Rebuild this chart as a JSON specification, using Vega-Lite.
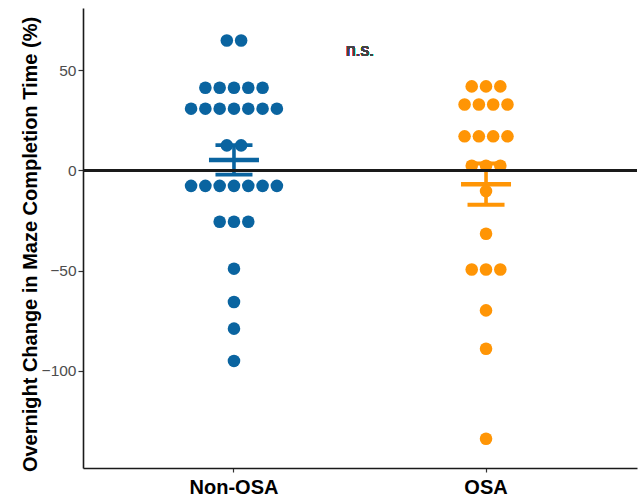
{
  "$schema": "https://vega.github.io/schema/vega-lite/v6.json",
  "autosize": {"type": "none"},
  "width": 554,
  "height": 460,
  "padding": {"left": 83, "top": 8, "right": 3, "bottom": 29},
  "background": "white",
  "config": {
    "view": {"stroke": null},
    "font": "Liberation Sans",
    "axis": {"grid": false, "domainColor": "#1a1a1a", "domainWidth": 1.6, "tickColor": "#333333", "tickWidth": 1.2}
  },
  "data": {
    "values": [
      {"group": "Non-OSA", "change": 64.8}, {"group": "Non-OSA", "change": 64.8},
      {"group": "Non-OSA", "change": 41.2}, {"group": "Non-OSA", "change": 41.2}, {"group": "Non-OSA", "change": 41.2}, {"group": "Non-OSA", "change": 41.2}, {"group": "Non-OSA", "change": 41.2},
      {"group": "Non-OSA", "change": 30.8}, {"group": "Non-OSA", "change": 30.8}, {"group": "Non-OSA", "change": 30.8}, {"group": "Non-OSA", "change": 30.8}, {"group": "Non-OSA", "change": 30.8}, {"group": "Non-OSA", "change": 30.8}, {"group": "Non-OSA", "change": 30.8},
      {"group": "Non-OSA", "change": 12.5}, {"group": "Non-OSA", "change": 12.5},
      {"group": "Non-OSA", "change": -7.7}, {"group": "Non-OSA", "change": -7.7}, {"group": "Non-OSA", "change": -7.7}, {"group": "Non-OSA", "change": -7.7}, {"group": "Non-OSA", "change": -7.7}, {"group": "Non-OSA", "change": -7.7}, {"group": "Non-OSA", "change": -7.7},
      {"group": "Non-OSA", "change": -25.6}, {"group": "Non-OSA", "change": -25.6}, {"group": "Non-OSA", "change": -25.6},
      {"group": "Non-OSA", "change": -49.0},
      {"group": "Non-OSA", "change": -65.6},
      {"group": "Non-OSA", "change": -78.9},
      {"group": "Non-OSA", "change": -95.0},
      {"group": "OSA", "change": 41.9}, {"group": "OSA", "change": 41.9}, {"group": "OSA", "change": 41.9},
      {"group": "OSA", "change": 32.9}, {"group": "OSA", "change": 32.9}, {"group": "OSA", "change": 32.9}, {"group": "OSA", "change": 32.9},
      {"group": "OSA", "change": 17.0}, {"group": "OSA", "change": 17.0}, {"group": "OSA", "change": 17.0}, {"group": "OSA", "change": 17.0},
      {"group": "OSA", "change": 2.3}, {"group": "OSA", "change": 2.3}, {"group": "OSA", "change": 2.3},
      {"group": "OSA", "change": -10.3},
      {"group": "OSA", "change": -31.6},
      {"group": "OSA", "change": -49.4}, {"group": "OSA", "change": -49.4}, {"group": "OSA", "change": -49.4},
      {"group": "OSA", "change": -69.8},
      {"group": "OSA", "change": -88.9},
      {"group": "OSA", "change": -133.8}
    ]
  },
  "encoding": {
    "x": {
      "field": "group",
      "type": "nominal",
      "sort": ["Non-OSA", "OSA"],
      "scale": {"paddingInner": 0.5, "paddingOuter": 0.349},
      "axis": {"title": null, "labelAngle": 0, "labelFontSize": 20, "labelFontWeight": "bold", "labelColor": "#000000", "tickSize": 4, "labelPadding": 5}
    },
    "y": {
      "field": "change",
      "type": "quantitative",
      "scale": {"domain": [-148.4, 81.0], "nice": false, "zero": false},
      "axis": {
        "title": "Overnight Change in Maze Completion Time (%)",
        "titleFontSize": 20,
        "titleFontWeight": "bold",
        "titleColor": "#000000",
        "titlePadding": 1,
        "titleY": 236,
        "values": [-100, -50, 0, 50],
        "labelFontSize": 15.5,
        "labelColor": "#4d4d4d",
        "tickSize": 5,
        "labelPadding": 2
      }
    },
    "color": {
      "field": "group",
      "type": "nominal",
      "scale": {"domain": ["Non-OSA", "OSA"], "range": ["#0a64a0", "#ff9505"]},
      "legend": null
    }
  },
  "layer": [
    {
      "mark": {"type": "errorbar", "extent": "stderr", "size": 37, "thickness": 3.6, "ticks": {"opacity": 1, "thickness": 3.8}, "rule": {"opacity": 1}}
    },
    {
      "mark": {"type": "tick", "size": 50, "thickness": 4.5, "opacity": 1},
      "encoding": {"y": {"aggregate": "mean", "field": "change", "type": "quantitative"}}
    },
    {
      "transform": [
        {"window": [{"op": "row_number", "as": "rank"}], "groupby": ["group", "change"]},
        {"joinaggregate": [{"op": "count", "as": "n"}], "groupby": ["group", "change"]},
        {"calculate": "datum.rank - (datum.n + 1) / 2", "as": "slot"}
      ],
      "mark": {"type": "circle", "size": 158, "opacity": 1},
      "encoding": {
        "xOffset": {"field": "slot", "type": "quantitative", "scale": {"domain": [-4.406, 4.406]}}
      }
    },
    {
      "mark": {"type": "rule", "color": "#1a1a1a", "strokeWidth": 2},
      "encoding": {"y": {"datum": 0}, "x": null, "color": null}
    },
    {
      "mark": {"type": "text", "text": "n.s.", "fontSize": 17.5, "fontWeight": "normal", "color": "#444444", "baseline": "middle", "align": "center"},
      "encoding": {"y": {"datum": 59.5}, "x": null, "color": null}
    }
  ]
}
